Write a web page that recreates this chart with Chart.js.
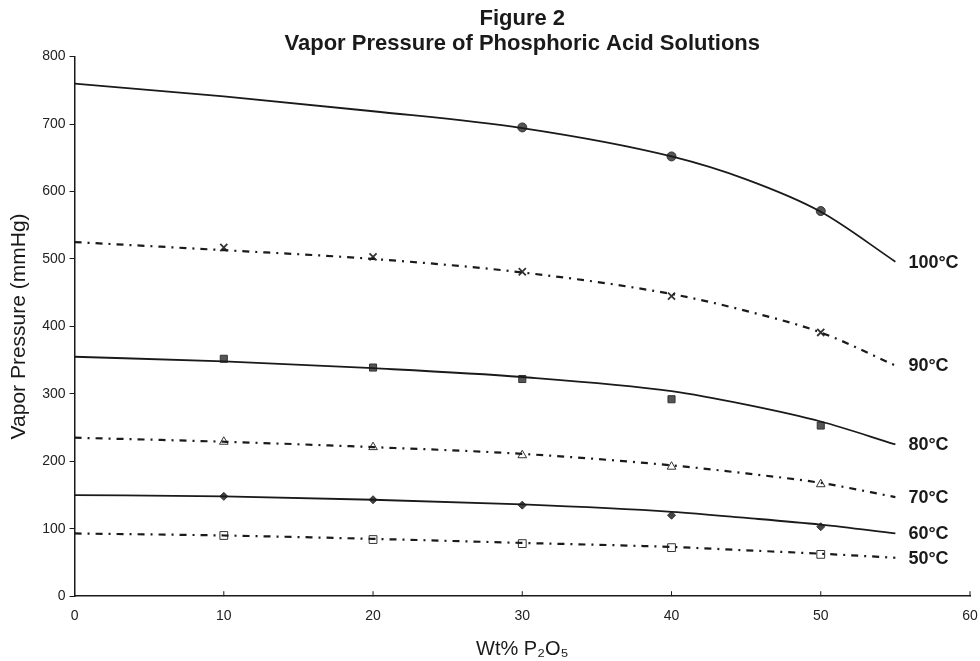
<!DOCTYPE html>
<html>
<head>
<meta charset="utf-8">
<script src="https://cdn.jsdelivr.net/npm/chart.js@4.4.1/dist/chart.umd.min.js"></script>
<style>
  html, body { margin: 0; padding: 0; background: #fff; }
  #wrap { width: 980px; height: 661px; }
</style>
</head>
<body>
<div id="wrap"><canvas id="vpChart"></canvas></div>
<script>
// measured points (Wt% P2O5)
var xMarks = [10, 20, 30, 40, 50];
var p100 = [null, null, 695, 652, 571];
var p90 = [517, 503, 481, 445, 391];
var p80 = [352, 339, 322, 292, 253];
var p70 = [229, 221, 209, 192, 166];
var p60 = [148, 143, 135, 120, 103];
var p50 = [90, 84, 78, 72, 62];

// fitted curves
var xCurve = [0, 10, 20, 30, 40, 45, 50, 55];
var c100 = [760, 741, 719, 694, 652, 618, 570, 496];
var c90 = [525, 513, 500, 480, 448, 423, 391, 342];
var c80 = [355, 348, 338, 325, 304, 284, 259, 225];
var c70 = [235, 229, 221, 211, 194, 182, 168, 147];
var c60 = [150, 148, 143, 136, 125, 116, 106, 93];
var c50 = [93, 90, 85, 79, 73, 68, 63, 57];

var curveLabels = ['100°C', '90°C', '80°C', '70°C', '60°C', '50°C'];
var xTicks = [0, 10, 20, 30, 40, 50, 60];

function pts(xs, ys) {
    var out = [];
    for (var i = 0; i < xs.length; i++) {
        if (ys[i] !== null) out.push({ x: xs[i], y: ys[i] });
    }
    return out;
}

var dashPat = [7, 6, 2, 6];
var ink = '#1a1a1a';
var fam = '"Liberation Sans", Arial, sans-serif';

function curve(lbl, ys, dashed) {
    return {
        label: lbl,
        data: pts(xCurve, ys),
        showLine: true,
        borderColor: ink,
        borderWidth: dashed ? 2.2 : 1.8,
        borderDash: dashed ? dashPat : [],
        cubicInterpolationMode: 'monotone',
        pointRadius: 0,
        isCurve: true
    };
}

function marks(ys, style, radius, fill, bw) {
    return {
        data: pts(xMarks, ys),
        showLine: false,
        pointStyle: style,
        pointRadius: radius,
        pointBackgroundColor: fill,
        pointBorderColor: '#333',
        pointBorderWidth: bw
    };
}

// short inward ticks on the x axis
var innerTicks = {
    id: 'innerTicks',
    afterDraw: function (chart) {
        var xs = chart.scales.x, ctx = chart.ctx, b = chart.chartArea.bottom;
        ctx.save();
        ctx.strokeStyle = ink;
        ctx.lineWidth = 1;
        xTicks.forEach(function (v) {
            var px = xs.getPixelForValue(v);
            ctx.beginPath();
            ctx.moveTo(px, b);
            ctx.lineTo(px, b - 5);
            ctx.stroke();
        });
        ctx.restore();
    }
};

// temperature labels at the end of each curve
var endLabels = {
    id: 'endLabels',
    afterDatasetsDraw: function (chart) {
        var ctx = chart.ctx, k = 0;
        ctx.save();
        ctx.font = 'bold 18px ' + fam;
        ctx.fillStyle = ink;
        ctx.textBaseline = 'middle';
        chart.data.datasets.forEach(function (ds, i) {
            if (!ds.isCurve) return;
            var meta = chart.getDatasetMeta(i);
            var last = meta.data[meta.data.length - 1];
            ctx.fillText(curveLabels[k], last.x + 13, last.y + 1);
            k++;
        });
        ctx.restore();
    }
};

var ctxVp = document.getElementById('vpChart');
var vpChart = new Chart(ctxVp, {
    type: 'scatter',
    data: {
        datasets: [
            curve('100°C', c100, false),
            curve('90°C', c90, true),
            curve('80°C', c80, false),
            curve('70°C', c70, true),
            curve('60°C', c60, false),
            curve('50°C', c50, true),
            marks(p100, 'circle', 4.5, '#555', 1),
            marks(p90, 'crossRot', 5, '#333', 1.8),
            marks(p80, 'rect', 5, '#555', 1),
            marks(p70, 'triangle', 5, '#fff', 1),
            marks(p60, 'rectRot', 4, '#444', 1),
            marks(p50, 'rect', 5.5, '#fff', 1)
        ]
    },
    options: {
        responsive: true,
        maintainAspectRatio: false,
        animation: false,
        layout: { padding: { left: 7, right: 0, top: 0, bottom: 0 } },
        plugins: {
            legend: { display: false },
            tooltip: { enabled: false },
            title: {
                display: true,
                fullSize: false,
                text: ['Figure 2', 'Vapor Pressure of Phosphoric Acid Solutions'],
                color: ink,
                font: { family: fam, size: 22, weight: 'bold', lineHeight: 1.15 },
                padding: { top: 6, bottom: 0 }
            }
        },
        scales: {
            x: {
                type: 'linear',
                min: 0,
                max: 60,
                afterBuildTicks: function (s) { s.ticks = xTicks.map(function (v) { return { value: v }; }); },
                afterFit: function (s) { s.paddingRight = 10; },
                grid: { display: false, drawTicks: false },
                border: { color: ink, width: 1.5 },
                ticks: { padding: 12, color: '#222', font: { family: fam, size: 14 } },
                title: {
                    display: true,
                    text: 'Wt% P₂O₅',
                    color: ink,
                    font: { family: fam, size: 20 },
                    padding: { top: 0, bottom: 0 }
                }
            },
            y: {
                min: 0,
                max: 800,
                ticks: { stepSize: 100, padding: 4, color: '#222', font: { family: fam, size: 14 } },
                grid: { drawOnChartArea: false, drawTicks: true, tickLength: 5, color: ink },
                border: { color: ink, width: 1.5 },
                title: {
                    display: true,
                    text: 'Vapor Pressure (mmHg)',
                    color: ink,
                    font: { family: fam, size: 21 },
                    padding: { top: 0, bottom: 6 }
                }
            }
        }
    },
    plugins: [innerTicks, endLabels]
});
</script>
</body>
</html>
